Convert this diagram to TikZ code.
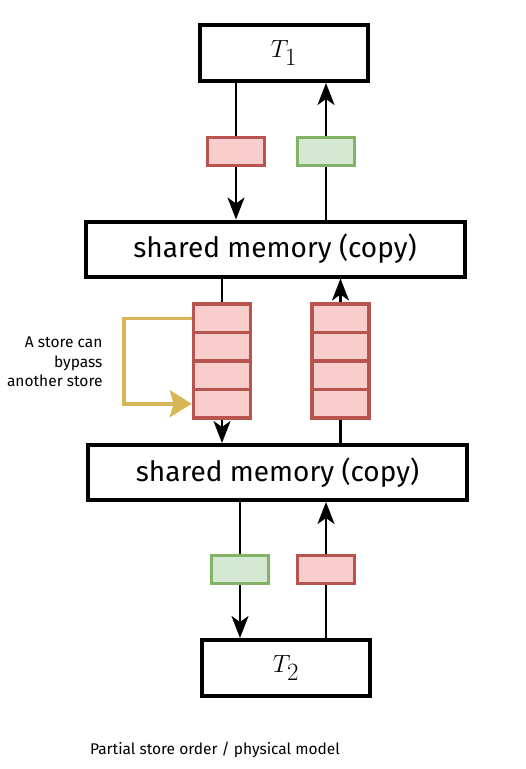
\documentclass[tikz,border=0pt]{standalone}
\usepackage{amsmath}
\usepackage{fontspec}
\setsansfont{Fira Sans}
\usetikzlibrary{arrows.meta,calc,positioning}
\definecolor{redfill}{HTML}{F8CECC}
\definecolor{redline}{HTML}{B85450}
\definecolor{greenfill}{HTML}{D5E8D4}
\definecolor{greenline}{HTML}{82B366}
\definecolor{goldline}{HTML}{D6B656}
\tikzset{%
	thread/.style   = {draw, line width=4pt, rectangle, minimum height = 56pt, minimum width = 168pt, inner sep=0pt}, % Thread
	membox/.style   = {draw, line width=4pt, rectangle, minimum height = 55pt, minimum width = 379pt, inner sep=0pt, font=\sffamily\fontsize{28}{28}\selectfont}, % Memory
	msgred/.style   = {draw=redline, fill=redfill, line width=3.5pt, minimum height = 28pt, minimum width = 57pt, inner sep=0pt}, % Store
	msggreen/.style = {draw=greenline, fill=greenfill, line width=3.5pt, minimum height = 28pt, minimum width = 57pt, inner sep=0pt}, % Load
	cell/.style     = {msgred, minimum height = 28.5pt}, % Buffer cell
	wire/.style     = {line width=2.5pt},
	arr/.style      = {wire, -{Stealth[length=22pt, width=17pt, inset=6pt]}},
	bypass/.style   = {draw=goldline, line width=3.5pt, -{Stealth[length=22pt, width=27pt, inset=4pt]}},
	label/.style    = {font=\sffamily\fontsize{15.5}{19.5}\selectfont, align=right},
}
\begin{document}
\begin{tikzpicture}[x=1pt, y=-1pt]
	\useasboundingbox (0,0) rectangle (526,769);
	\node[thread] (t1) at (284,53) {\fontsize{35}{35}\selectfont$T_1$};
	\node[membox] (sm1) at (275,249) {shared memory (copy)};
	\node[membox] (sm2) at (277.5,472.5) {shared memory (copy)};
	\node[thread] (t2) at (286,668) {\fontsize{35}{35}\selectfont$T_2$};
	% messages between thread and memory
	\node[msgred] (st1) at (236,151.5) {};
	\node[msggreen] (ld1) at (326,151.5) {};
	\node[msggreen] (ld2) at (240,569.5) {};
	\node[msgred] (st2) at (326,569.5) {};
	% store buffers
	\foreach \i in {1,...,4} {
		\node[cell] (qa\i) at (222,{304+28.5*(\i-0.5)}) {};
		\node[cell] (qb\i) at (340.5,{304+28.5*(\i-0.5)}) {};
	}
	\draw[wire] (t1.south -| st1) -- (st1);
	\draw[arr] (st1) -- (st1 |- sm1.north);
	\draw[wire] (ld1.south |- sm1.north) -- (ld1);
	\draw[arr] (ld1) -- (ld1 |- t1.south);
	\draw[wire] (sm1.south -| qa1) -- (qa1);
	\draw[arr] (qa4) -- (qa4 |- sm2.north);
	\draw[wire] (sm2.north -| qb4) -- (qb4);
	\draw[arr] (qb1) -- (qb1 |- sm1.south);
	\draw[wire] (sm2.south -| ld2) -- (ld2);
	\draw[arr] (ld2) -- (ld2 |- t2.north);
	\draw[wire] (t2.north -| st2) -- (st2);
	\draw[arr] (st2) -- (st2 |- sm2.south);
	% reordering
	\coordinate (bend) at (124,0);
	\draw[bypass] (qa1.west) -| (bend |- qa4.west) -- (qa4.west);
	\node[label, anchor=east] (note) at (106,362) {A store can\\bypass\\another store};
	\node[label, align=left] (caption) at (215,750) {Partial store order / physical model};
\end{tikzpicture}
\end{document}
